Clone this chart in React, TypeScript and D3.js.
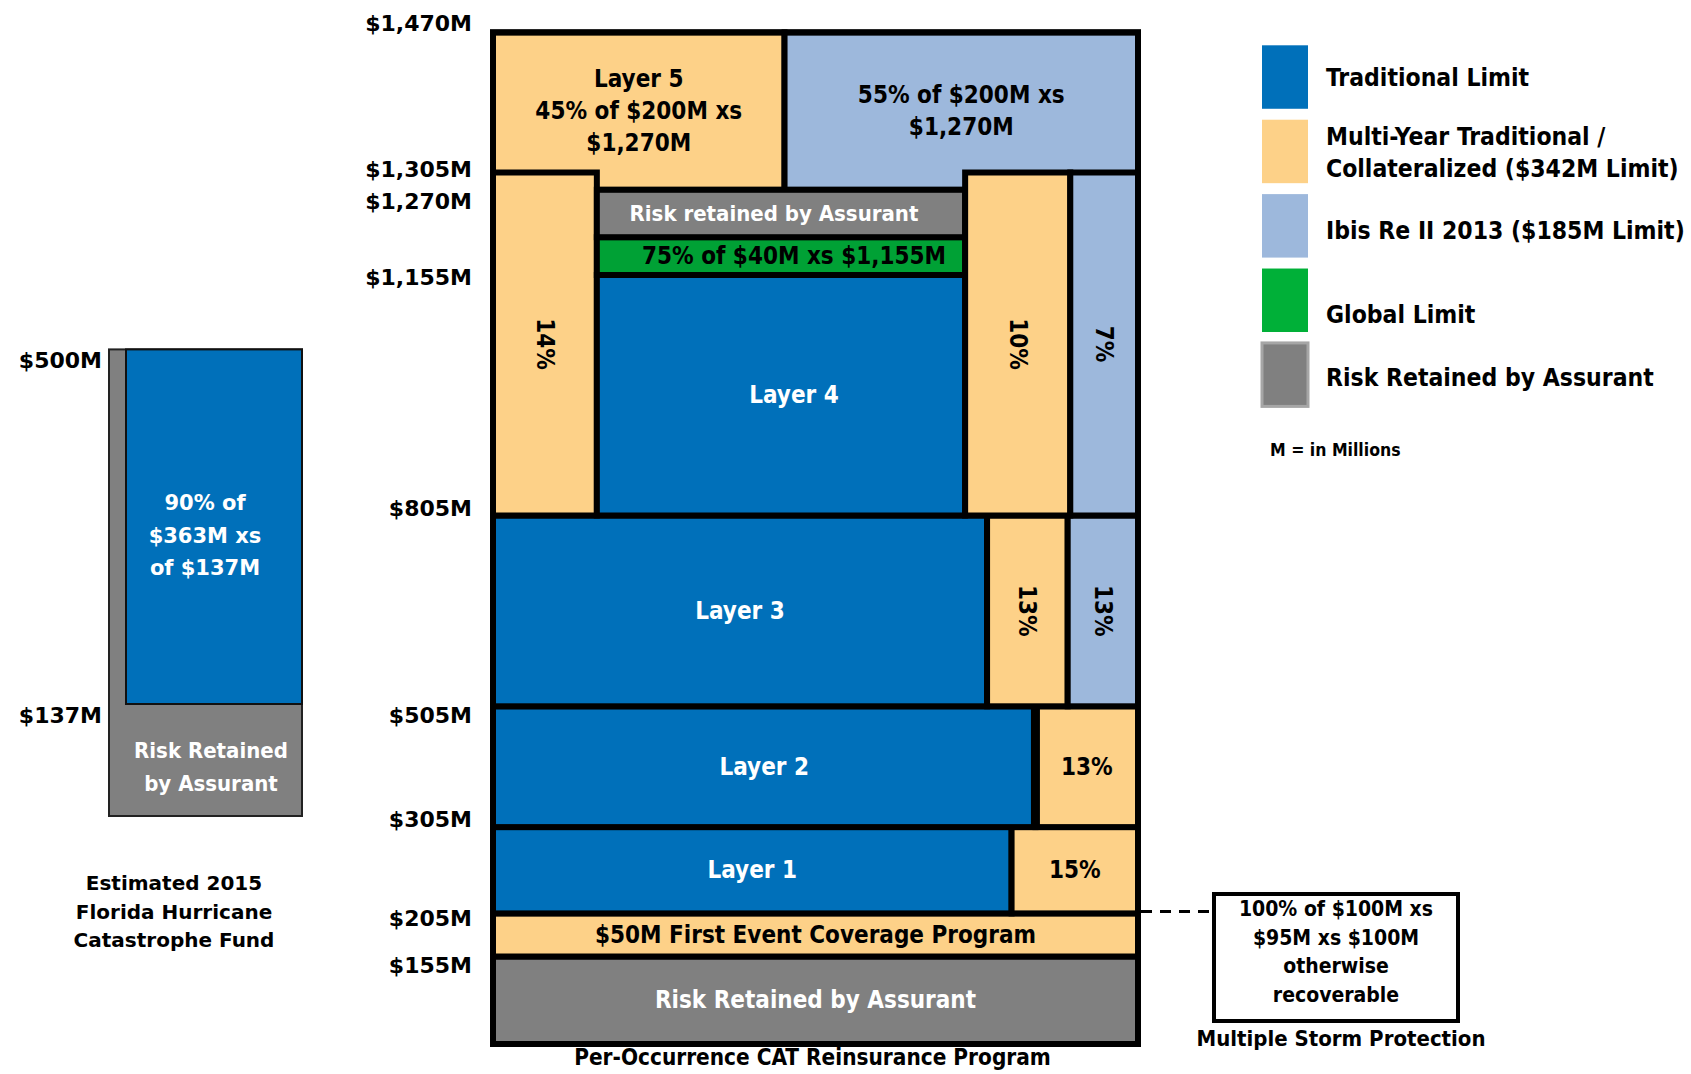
import React from 'react';
import * as d3 from 'd3';

const W = 1691;
const H = 1074;

// ---- data ($M) ----
const mainTicks = [1470, 1305, 1270, 1155, 805, 505, 305, 205, 155];
const fhcfTicks = [500, 137];

// program boundaries used by the (non proportional) layer diagram
const bounds = [100, 155, 205, 305, 505, 805, 1155, 1195, 1270, 1305, 1470];

const blockKinds = ['retained', 'multi', 'trad', 'multi', 'trad', 'multi', 'trad', 'multi', 'ibis',
  'multi', 'ibis', 'multi', 'trad', 'global', 'retained', 'multi', 'ibis'];
const blockLo = [100, 155, 205, 205, 305, 305, 505, 505, 505, 1270, 1270, 805, 805, 1155, 1195, 805, 805];
const blockHi = [155, 205, 305, 305, 505, 505, 805, 805, 805, 1470, 1470, 1305, 1155, 1195, 1270, 1305, 1305];
const blockText = [
  ['Risk Retained by Assurant'],
  ['$50M First Event Coverage Program'],
  ['Layer 1'], ['15%'],
  ['Layer 2'], ['13%'],
  ['Layer 3'], ['13%'], ['13%'],
  ['Layer 5', '45% of $200M xs', '$1,270M'],
  ['55% of $200M xs', '$1,270M'],
  ['14%'],
  ['Layer 4'],
  ['75% of $40M xs $1,155M'],
  ['Risk retained by Assurant'],
  ['10%'],
  ['7%'],
];
const blockVertical = [false, false, false, false, false, false, false, true, true, false, false, true, false, false, false, true, true];

const fhcfBounds = [0, 137, 500];

const legendNames = [
  ['Traditional Limit'],
  ['Multi-Year Traditional /', 'Collateralized ($342M Limit)'],
  ['Ibis Re II 2013 ($185M Limit)'],
  ['Global Limit'],
  ['Risk Retained by Assurant'],
];
const legendKinds = ['trad', 'multi', 'ibis', 'global', 'retained'];

const stormText = ['100% of $100M xs', '$95M xs $100M', 'otherwise', 'recoverable'];
const fhcfCaption = ['Estimated 2015', 'Florida Hurricane', 'Catastrophe Fund'];

// ---- layout ----
const boundsPx = [1044, 956.5, 913.4, 827.1, 706.3, 515.5, 275, 237.2, 189.8, 172.5, 32.4];
const blockX0 = [0, 0, 0, 0.804, 0, 0.841, 0, 0.766, 0.891, 0, 0.452, 0, 0.161, 0.161, 0.161, 0.732, 0.895];
const blockX1 = [1, 1, 0.804, 1, 0.841, 1, 0.766, 0.891, 1, 0.452, 1, 0.161, 0.732, 0.732, 0.732, 0.895, 1];
const textDx = [0, 0, 0, 0, 0, 0, 0, 0, 0, 0, 0, 0, 13, 13, -7, 0, 0];
const textSize = [24, 24, 24, 24, 24, 24, 24, 24, 24, 24, 24, 24, 24, 24, 22, 24, 24];
const tickNudge = [-9, -3, 12, 2, -7, 9, -8, 5, 9];
const legendDy = [0, 6, 5, 4, 3];

const colors: Record<string, string> = {
  trad: '#0070BA',
  multi: '#FDD188',
  ibis: '#9DB8DC',
  global: '#00A135',
  retained: '#808080',
};
const legendColors: Record<string, string> = { ...colors, global: '#00B038' };
const textColor: Record<string, string> = {
  trad: '#ffffff', multi: '#000000', ibis: '#000000', global: '#000000', retained: '#ffffff',
};

const condensed = "'DejaVu Sans Condensed', 'DejaVu Sans', sans-serif";
const wide = "'DejaVu Sans', Verdana, sans-serif";

export default function App() {
  const x = d3.scaleLinear().domain([0, 1]).range([493, 1138]);
  const y = d3.scaleLinear().domain(bounds).range(boundsPx);
  const fy = d3.scaleLinear().domain(fhcfBounds).range([816, 704, 349.4]);
  const legendY = d3.scaleBand().domain(legendKinds).range([45.3, 406.4]).paddingInner(0.147);

  const lineH = 32;

  return (
    <svg width={W} height={H} style={{ display: 'block', position: 'absolute', left: 0, top: 0, background: '#fff' }}>
      {/* main program blocks */}
      {blockKinds.map((k, i) => {
        const x0 = x(blockX0[i]);
        const x1 = x(blockX1[i]);
        const y0 = y(blockHi[i]);
        const y1 = y(blockLo[i]);
        return (
          <rect key={'b' + i} x={x0} y={y0} width={x1 - x0} height={y1 - y0}
            fill={colors[k]} stroke="#000" strokeWidth={6} />
        );
      })}
      {/* heavier divider in layer 2 */}
      <line x1={x(0.841)} x2={x(0.841)} y1={y(505)} y2={y(305)} stroke="#000" strokeWidth={9} />
      {blockKinds.map((k, i) => {
        const cx = (x(blockX0[i]) + x(blockX1[i])) / 2 + textDx[i];
        const cy = (y(blockHi[i]) + y(blockLo[i])) / 2;
        const lines = blockText[i];
        if (blockVertical[i]) {
          return (
            <text key={'t' + i} transform={`translate(${cx},${cy}) rotate(90)`} textAnchor="middle"
              dominantBaseline="central" fontFamily={condensed} fontWeight="bold" fontSize={textSize[i]}
              fill={textColor[k]}>{lines[0]}</text>
          );
        }
        const start = cy - ((lines.length - 1) * lineH) / 2;
        return (
          <text key={'t' + i} textAnchor="middle" fontFamily={condensed} fontWeight="bold"
            fontSize={textSize[i]} fill={textColor[k]}>
            {lines.map((l, j) => (
              <tspan key={j} x={cx} y={start + j * lineH} dominantBaseline="central">{l}</tspan>
            ))}
          </text>
        );
      })}
      <rect x={x(0)} y={y(1470)} width={x(1) - x(0)} height={y(100) - y(1470)} fill="none"
        stroke="#000" strokeWidth={6} />

      {/* main axis labels */}
      {mainTicks.map((t, i) => (
        <text key={'mt' + t} x={472} y={y(t) + tickNudge[i]} textAnchor="end" dominantBaseline="central"
          fontFamily={wide} fontWeight="bold" fontSize={22} fill="#000">
          {d3.format('$,')(t)}M
        </text>
      ))}

      <text x={(x(0) + x(1)) / 2 - 3} y={1057} textAnchor="middle" dominantBaseline="central"
        fontFamily={condensed} fontWeight="bold" fontSize={22.4} fill="#000">
        Per-Occurrence CAT Reinsurance Program
      </text>

      {/* FHCF */}
      <rect x={109} y={fy(500)} width={302 - 109} height={fy(0) - fy(500)} fill={colors.retained}
        stroke="#222" strokeWidth={2} />
      <rect x={126} y={fy(500)} width={302 - 126} height={fy(137) - fy(500)} fill={colors.trad}
        stroke="#111" strokeWidth={2} />
      <text textAnchor="middle" fontFamily={wide} fontWeight="bold" fontSize={21} fill="#fff">
        {['90% of', '$363M xs', 'of $137M'].map((l, j) => (
          <tspan key={j} x={205} y={(fy(500) + fy(137)) / 2 + 9 + (j - 1) * 32.4} dominantBaseline="central">{l}</tspan>
        ))}
      </text>
      <text textAnchor="middle" fontFamily={condensed} fontWeight="bold" fontSize={22} fill="#fff">
        {['Risk Retained', 'by Assurant'].map((l, j) => (
          <tspan key={j} x={211} y={(fy(137) + fy(0)) / 2 + 7 + (j - 0.5) * 32.4} dominantBaseline="central">{l}</tspan>
        ))}
      </text>
      {fhcfTicks.map((t) => (
        <text key={'ft' + t} x={102} y={fy(t) + 11} textAnchor="end" dominantBaseline="central"
          fontFamily={wide} fontWeight="bold" fontSize={22} fill="#000">
          {d3.format('$,')(t)}M
        </text>
      ))}
      <text textAnchor="middle" fontFamily={wide} fontWeight="bold" fontSize={20} fill="#000">
        {fhcfCaption.map((l, j) => (
          <tspan key={j} x={174} y={883 + j * 28.5} dominantBaseline="central">{l}</tspan>
        ))}
      </text>

      {/* legend */}
      {legendKinds.map((k, i) => {
        const top = legendY(k) as number;
        const bw = legendY.bandwidth();
        const lines = legendNames[i];
        const cy = top + bw / 2 + (k === 'global' ? 10 : k === 'multi' ? -5 : 0) + legendDy[i];
        return (
          <g key={'lg' + k}>
            <rect x={1262} y={top} width={46} height={bw} fill={legendColors[k]}
              stroke={k === 'retained' ? '#a6a6a6' : 'none'} strokeWidth={3} />
            <text fontFamily={condensed} fontWeight="bold" fontSize={24.5} fill="#000">
              {lines.map((l, j) => (
                <tspan key={j} x={1326} y={cy + (j - (lines.length - 1) / 2) * 32} dominantBaseline="central">{l}</tspan>
              ))}
            </text>
          </g>
        );
      })}
      <text x={1270} y={450} dominantBaseline="central" fontFamily={condensed} fontWeight="bold"
        fontSize={17.5} fill="#000">M = in Millions</text>

      {/* multiple storm protection */}
      <line x1={x(1) + 3} x2={1214} y1={y(205) - 2} y2={y(205) - 2} stroke="#000" strokeWidth={3}
        strokeDasharray="11 8" />
      <rect x={1214} y={894} width={1458 - 1214} height={1021 - 894} fill="#fff" stroke="#000" strokeWidth={4} />
      <text textAnchor="middle" fontFamily={condensed} fontWeight="bold" fontSize={21} fill="#000">
        {stormText.map((l, j) => (
          <tspan key={j} x={1336} y={909 + j * 28.5} dominantBaseline="central">{l}</tspan>
        ))}
      </text>
      <text x={1341} y={1038} textAnchor="middle" dominantBaseline="central" fontFamily={condensed}
        fontWeight="bold" fontSize={22} fill="#000">Multiple Storm Protection</text>
    </svg>
  );
}
